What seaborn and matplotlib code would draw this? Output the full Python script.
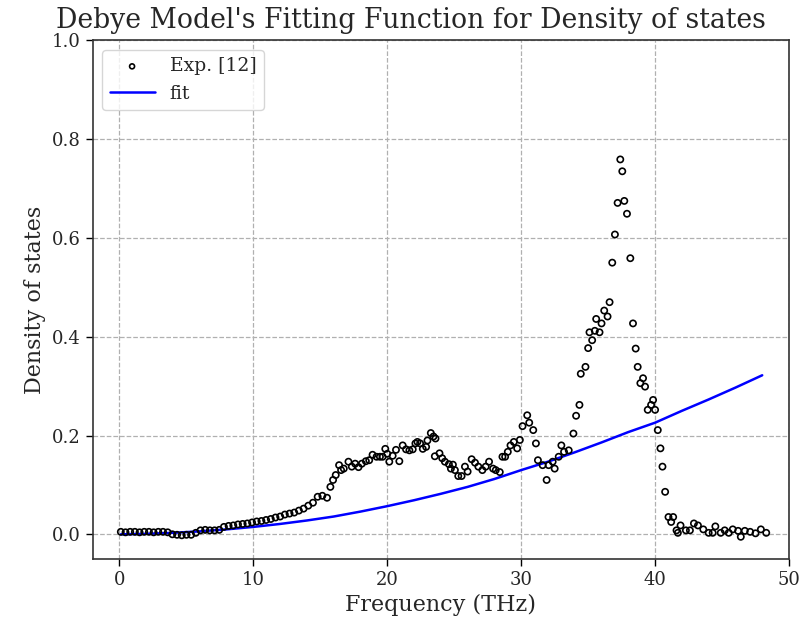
import matplotlib
matplotlib.use("Agg")
import matplotlib.pyplot as plt
import seaborn as sns
import pandas as pd

exp_freq = [0.10, 0.45, 0.80, 1.15, 1.50, 1.85, 2.20, 2.55, 2.90, 3.25, 3.60,
            3.95, 4.30, 4.65, 5.00, 5.35, 5.70, 6.05, 6.40, 6.75, 7.10, 7.45,
            7.80, 8.15, 8.50, 8.85, 9.20, 9.55, 9.90, 10.25, 10.60, 10.95,
            11.30, 11.65, 12.00, 12.35, 12.70, 13.05, 13.40, 13.75, 14.10,
            14.45, 14.80, 15.15, 15.50, 15.75, 15.95, 16.15, 16.40, 16.55,
            16.75, 17.10, 17.35, 17.60, 17.85, 18.10, 18.40, 18.65, 18.90,
            19.20, 19.45, 19.65, 19.85, 20.00, 20.15, 20.40, 20.65, 20.90,
            21.15, 21.40, 21.65, 21.90, 22.10, 22.25, 22.45, 22.65, 22.90,
            23.00, 23.25, 23.45, 23.60, 23.55, 23.90, 24.10, 24.30, 24.60,
            24.75, 24.90, 25.05, 25.30, 25.55, 25.80, 26.00, 26.30, 26.55,
            26.80, 27.10, 27.35, 27.60, 27.90, 28.10, 28.40, 28.60, 28.80,
            29.00, 29.20, 29.45, 29.70, 29.90, 30.10, 30.45, 30.60, 30.90,
            31.10, 31.25, 31.60, 31.90, 32.05, 32.35, 32.50, 32.80, 33.00,
            33.20, 33.55, 33.90, 34.10, 34.35, 34.45, 34.80, 35.00, 35.10,
            35.30, 35.50, 35.60, 35.85, 36.00, 36.20, 36.45, 36.60, 36.80,
            37.00, 37.20, 37.40, 37.55, 37.70, 37.90, 38.15, 38.35, 38.55,
            38.70, 38.90, 39.10, 39.25, 39.45, 39.70, 39.85, 40.00, 40.20,
            40.40, 40.55, 40.75, 41.00, 41.20, 41.35, 41.60, 41.70, 41.90,
            42.30, 42.60, 42.90, 43.20, 43.60, 44.00, 44.30, 44.50, 44.90,
            45.20, 45.50, 45.80, 46.20, 46.40, 46.70, 47.10, 47.50, 47.90,
            48.30]
exp_dos = [0.005, 0.004, 0.005, 0.005, 0.004, 0.005, 0.005, 0.004, 0.005, 0.005, 0.004,
           0.000, -0.001, -0.002, -0.001, -0.001, 0.003, 0.008, 0.009, 0.008, 0.008, 0.009,
           0.015, 0.017, 0.018, 0.020, 0.021, 0.022, 0.024, 0.026, 0.027, 0.029,
           0.031, 0.034, 0.036, 0.040, 0.042, 0.044, 0.048, 0.052, 0.058,
           0.064, 0.076, 0.078, 0.074, 0.096, 0.110, 0.120, 0.140, 0.130,
           0.133, 0.147, 0.137, 0.143, 0.136, 0.143, 0.148, 0.150, 0.161,
           0.157, 0.157, 0.157, 0.173, 0.163, 0.147, 0.159, 0.171, 0.148,
           0.180, 0.172, 0.170, 0.172, 0.184, 0.187, 0.184, 0.173, 0.177,
           0.190, 0.205, 0.198, 0.194, 0.158, 0.164, 0.154, 0.147, 0.142,
           0.133, 0.141, 0.130, 0.118, 0.118, 0.137, 0.127, 0.152, 0.145,
           0.137, 0.130, 0.137, 0.147, 0.133, 0.130, 0.126, 0.157, 0.157,
           0.167, 0.180, 0.187, 0.174, 0.191, 0.219, 0.241, 0.226, 0.211,
           0.184, 0.150, 0.140, 0.110, 0.140, 0.147, 0.133, 0.157, 0.180,
           0.167, 0.170, 0.204, 0.240, 0.262, 0.325, 0.339, 0.377, 0.409,
           0.393, 0.412, 0.436, 0.409, 0.427, 0.453, 0.441, 0.470, 0.550,
           0.607, 0.671, 0.759, 0.735, 0.675, 0.649, 0.559, 0.427, 0.376,
           0.339, 0.306, 0.316, 0.299, 0.252, 0.262, 0.272, 0.252, 0.211,
           0.174, 0.137, 0.086, 0.035, 0.025, 0.035, 0.008, 0.003, 0.018,
           0.008, 0.008, 0.022, 0.018, 0.010, 0.003, 0.003, 0.016, 0.003,
           0.008, 0.003, 0.010, 0.007, -0.005, 0.007, 0.005, 0.002, 0.010,
           0.003]

fit_freq = [0.1, 2, 4, 6, 8, 10, 12, 14, 16, 18, 20, 22, 24, 26, 28, 30,
            32, 34, 36, 38, 40, 42, 44, 46, 48]
fit_dos = [0.000, 0.001, 0.003, 0.006, 0.010, 0.015, 0.021, 0.028, 0.036,
           0.046, 0.057, 0.069, 0.082, 0.096, 0.112, 0.130, 0.147, 0.166,
           0.186, 0.207, 0.226, 0.250, 0.273, 0.297, 0.322]

exp_df = pd.DataFrame({"freq": exp_freq, "dos": exp_dos})
fit_df = pd.DataFrame({"freq": fit_freq, "dos": fit_dos})

sns.set_theme(style="ticks")
plt.rcParams["font.family"] = ["DejaVu Serif"]

fig = plt.figure(figsize=(8.02, 6.31), dpi=100)
ax = fig.add_axes([92.7 / 802, 72 / 631, (789 - 92.7) / 802, (559.3 - 40.7) / 631])

ax.grid(True, linestyle="--", color="#b0b0b0", linewidth=0.9)
ax.set_axisbelow(True)

sns.scatterplot(data=exp_df, x="freq", y="dos", ax=ax, marker="o",
                facecolor="none", edgecolor="black", linewidth=1.2, s=20,
                label="Exp. [12]", zorder=3)
sns.lineplot(data=fit_df, x="freq", y="dos", ax=ax, color="blue",
             linewidth=1.8, label="fit", zorder=2)

ax.set_xlim(-2, 50)
ax.set_ylim(-0.05, 1.0)
ax.set_xticks([0, 10, 20, 30, 40, 50])
ax.set_yticks([0.0, 0.2, 0.4, 0.6, 0.8, 1.0])
ax.tick_params(axis="both", labelsize=13, length=5, width=1, color="black")
for sp in ax.spines.values():
    sp.set_color("#333333")
    sp.set_linewidth(1.2)

ax.set_xlabel("Frequency (THz)", fontsize=16)
ax.set_ylabel("Density of states", fontsize=16)
ax.set_title("Debye Model's Fitting Function for Density of states",
             fontsize=19.2, x=0.457, pad=9)
ax.legend(loc="upper left", fontsize=13.5, frameon=True, markerscale=0.8,
          handlelength=2.4)

fig.savefig("out.png", dpi=100)
